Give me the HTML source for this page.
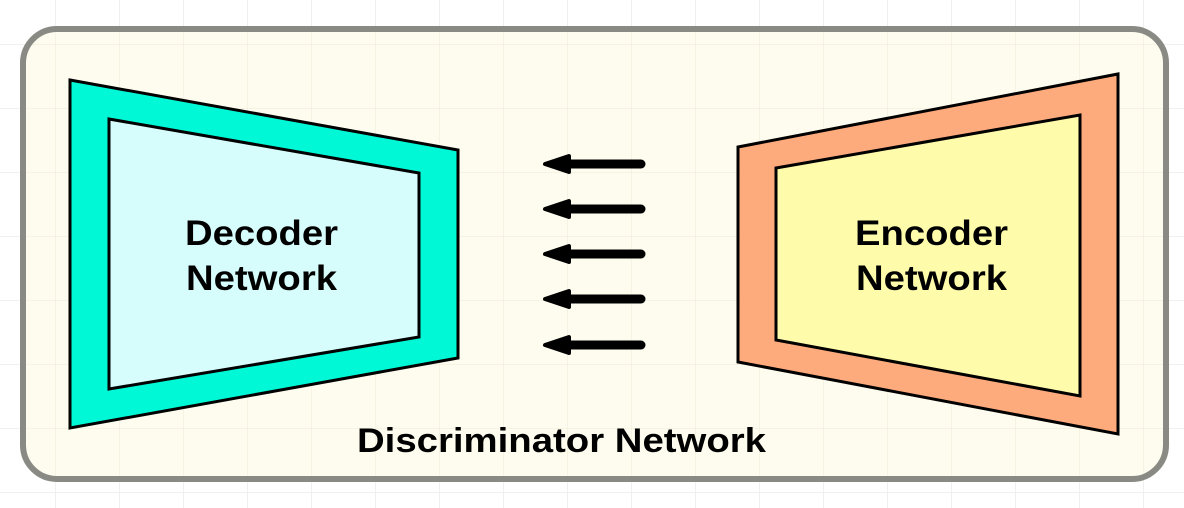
<!DOCTYPE html>
<html><head><meta charset="utf-8"><style>
html,body{margin:0;padding:0;background:#fff;}
svg{display:block;}
text{font-family:"Liberation Sans",sans-serif;font-weight:bold;fill:#000;}
</style></head><body>
<svg width="1184" height="508" viewBox="0 0 1184 508">
<defs>
<pattern id="grid" x="-8" y="-19" width="64" height="64" patternUnits="userSpaceOnUse">
<path d="M64 0V64M0 64H64" stroke="#ececec" stroke-width="1.5" fill="none"/>
</pattern>
<pattern id="grid2" x="-8" y="-19" width="64" height="64" patternUnits="userSpaceOnUse">
<path d="M64 0V64M0 64H64" stroke="#f3f0df" stroke-width="1.5" fill="none"/>
</pattern>
</defs>
<rect width="1184" height="508" fill="url(#grid)"/>
<g>
<rect x="23" y="29" width="1143" height="450" rx="34" fill="#fefcee" stroke="#8a8a85" stroke-width="6"/>
<rect x="26" y="32" width="1137" height="444" rx="31" fill="url(#grid2)"/>
</g>
<g>
<polygon points="70,80 458,150 458,358 70,428" fill="#00f8d6" stroke="#000" stroke-width="3"/>
<polygon points="109,119 419,173 419,337 109,389" fill="#d6fcfc" stroke="#000" stroke-width="3"/>
<text x="185" y="245" font-size="35" textLength="153" lengthAdjust="spacingAndGlyphs">Decoder</text>
<text x="186" y="290" font-size="35" textLength="151" lengthAdjust="spacingAndGlyphs">Network</text>
</g>
<g>
<polygon points="738,147 1118,74 1118,434 738,362" fill="#fdaa7c" stroke="#000" stroke-width="3"/>
<polygon points="776,168 1080,115 1080,396 776,340" fill="#fefcab" stroke="#000" stroke-width="3"/>
<text x="855" y="245" font-size="35" textLength="153" lengthAdjust="spacingAndGlyphs">Encoder</text>
<text x="856" y="290" font-size="35" textLength="151" lengthAdjust="spacingAndGlyphs">Network</text>
</g>
<g stroke="#000" fill="#000" stroke-linecap="round" stroke-linejoin="round">
<g><line x1="641" y1="164" x2="566" y2="164" stroke-width="9"/><polygon points="545,164 569,156 569,172" stroke-width="4"/></g>
<g><line x1="641" y1="209" x2="566" y2="209" stroke-width="9"/><polygon points="545,209 569,201 569,217" stroke-width="4"/></g>
<g><line x1="641" y1="254" x2="566" y2="254" stroke-width="9"/><polygon points="545,254 569,246 569,262" stroke-width="4"/></g>
<g><line x1="641" y1="299" x2="566" y2="299" stroke-width="9"/><polygon points="545,299 569,291 569,307" stroke-width="4"/></g>
<g><line x1="641" y1="345" x2="566" y2="345" stroke-width="9"/><polygon points="545,345 569,337 569,353" stroke-width="4"/></g>
</g>
<text x="357" y="452" font-size="34" textLength="409" lengthAdjust="spacingAndGlyphs">Discriminator Network</text>
</svg>
</body></html>
